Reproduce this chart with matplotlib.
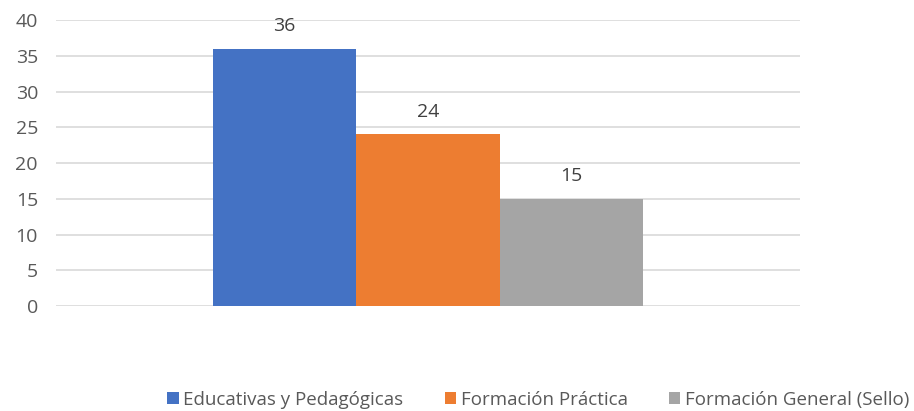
import matplotlib.pyplot as plt

series = ["Educativas y Pedagógicas", "Formación Práctica", "Formación General (Sello)"]
values = [36, 24, 15]
colors = ["#4472C4", "#ED7D31", "#A5A5A5"]
yticks = [0, 5, 10, 15, 20, 25, 30, 35, 40]

plt.rcParams['font.family'] = ['Open Sans', 'DejaVu Sans']
txt = "#595959"

fig = plt.figure(figsize=(9.14, 4.11), dpi=100)
ax = fig.add_axes([0.0613, 0.2555, 0.8137, 0.6955])

w = 0.193
for i, (name, v, c) in enumerate(zip(series, values, colors)):
    x = (i - 1) * w
    ax.bar(x, v, width=w, color=c, label=name, zorder=2)
    ax.annotate(str(v), (x, v), xytext=(0, 10), textcoords="offset points",
                ha="center", va="bottom", fontsize=14, color="#404040")

ax.set_xlim(-0.5, 0.5)
ax.set_ylim(0, 40)
ax.set_yticks(yticks)
ax.set_xticks([])
ax.grid(axis="y", color="#D9D9D9", linewidth=1.2, zorder=0)
for s in ax.spines.values():
    s.set_visible(False)
ax.tick_params(axis="y", length=0, labelsize=14, labelcolor=txt, pad=13)

fig.legend(loc="lower center", bbox_to_anchor=(0.589, -0.035), ncol=3, frameon=False,
           fontsize=13.5, labelcolor=txt, handlelength=0.6, handleheight=0.6,
           handletextpad=0.25, columnspacing=2.2)

fig.savefig("out.png", dpi=100)
